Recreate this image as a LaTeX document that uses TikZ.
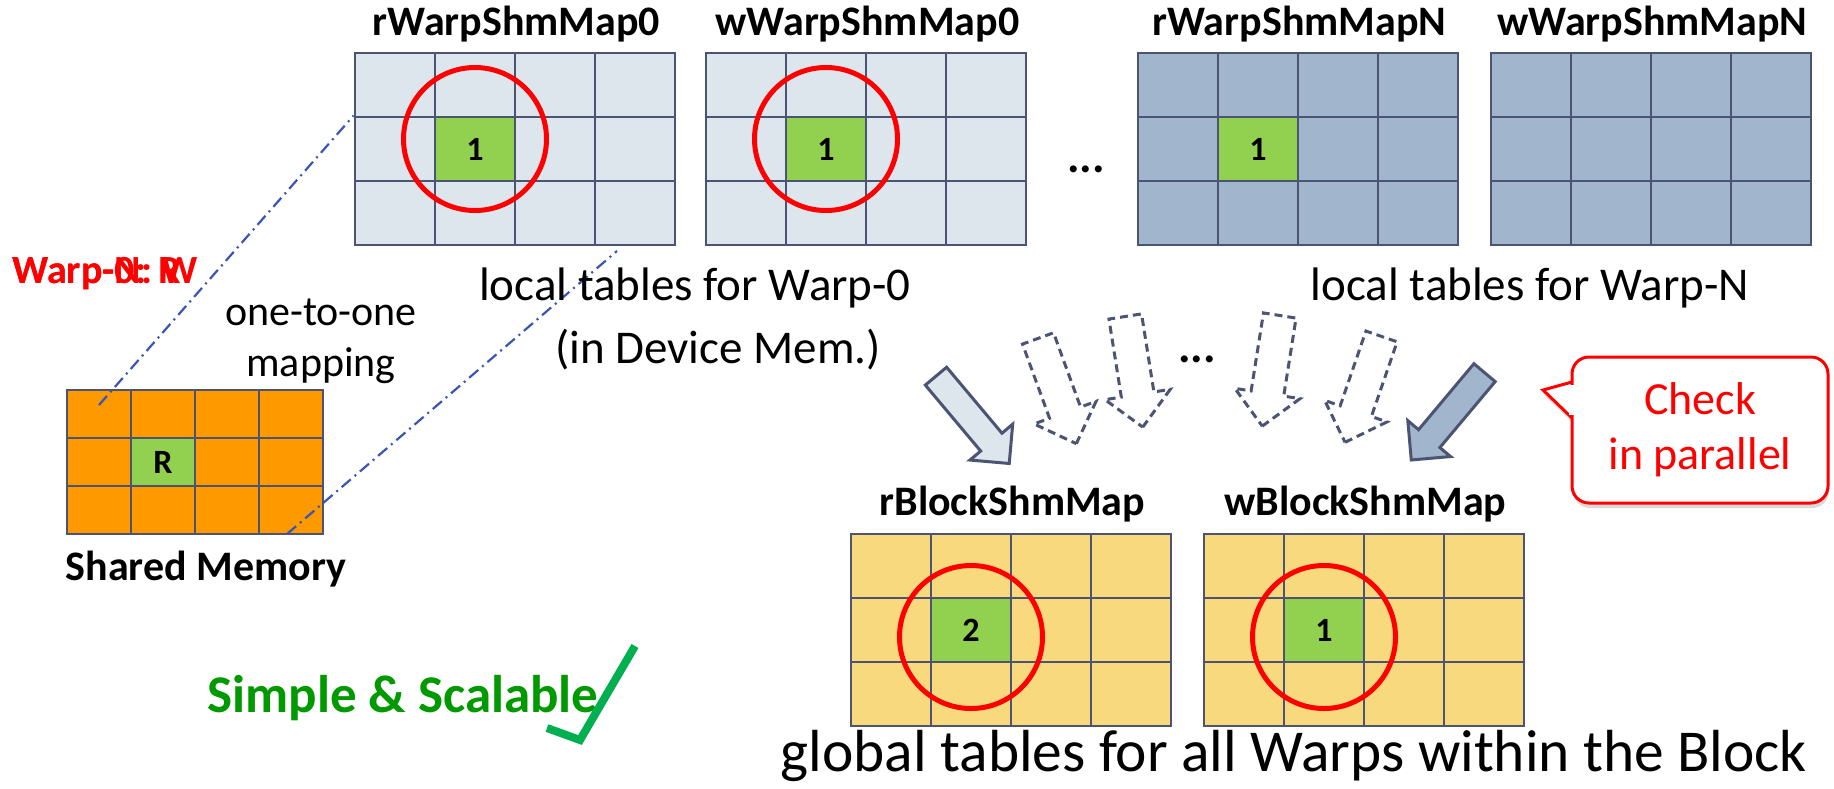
\documentclass[tikz,border=0pt]{standalone}
\usepackage{fontspec}
\setmainfont{Carlito}
\usetikzlibrary{shapes.arrows,shadows}

\definecolor{gridline}{HTML}{4C5474}
\definecolor{cLight}{HTML}{DCE6EC}
\definecolor{cDark}{HTML}{A1B6CC}
\definecolor{cShm}{HTML}{FF9900}
\definecolor{cBlk}{HTML}{F9D97E}
\definecolor{cHit}{HTML}{92D050}
\definecolor{mapblue}{HTML}{3A55B4}
\definecolor{cOk}{HTML}{009900}
\definecolor{cTick}{HTML}{00B050}

\begin{document}
\begin{tikzpicture}[
    x=0.5pt, y=-0.5pt,
    cell/.style={rectangle, draw=gridline, line width=1.4pt, minimum width=40pt, minimum height=32pt, inner sep=0pt, font=\bfseries\fontsize{17}{17}\selectfont},
    shmcell/.style={cell, minimum width=32pt, minimum height=24pt},
    ring/.style={circle, draw=red, line width=2.5pt, minimum size=71.5pt, inner sep=0pt},
    title/.style={anchor=base, font=\bfseries\fontsize{21}{25}\selectfont},
    caption/.style={anchor=base, font=\fontsize{23.5}{28}\selectfont},
    warp/.style={anchor=base west, inner sep=0pt, text=red, font=\bfseries\fontsize{20}{24}\selectfont},
    mapline/.style={draw=mapblue, line width=1.1pt, dash pattern=on 6pt off 2.5pt on 1pt off 2.5pt},
    blockarr/.style={single arrow, draw=gridline, line width=1.5pt, inner sep=0pt, anchor=tail},
    solidarr/.style={blockarr, inner ysep=6.2pt, single arrow head extend=7pt, minimum height=57pt},
    dasharr/.style={blockarr, fill=white, dash pattern=on 4pt off 2.5pt, inner ysep=7.5pt, single arrow head extend=8.25pt, minimum height=56pt},
    bubble/.style={rectangle, draw=red, line width=1.5pt, fill=white, rounded corners=8.5pt, minimum width=128pt, minimum height=73pt, align=center, text=red, font=\fontsize{23}{27.5}\selectfont}
]
\useasboundingbox (0,0) rectangle (1834,788);

% local tables
\foreach \tab/\lx/\clr in {rw0/355/cLight, ww0/706/cLight, rwn/1138/cDark, wwn/1491/cDark}
  \foreach \c in {0,...,3}
    \foreach \r in {0,1,2}
      \node[cell, fill=\clr] (\tab-\r-\c) at (\lx+40+80*\c, 85+64*\r) {};

% global tables
\foreach \tab/\lx in {rblk/851, wblk/1204}
  \foreach \c in {0,...,3}
    \foreach \r in {0,1,2}
      \node[cell, fill=cBlk] (\tab-\r-\c) at (\lx+40+80*\c, 566+64*\r) {};

% shared memory
\foreach \c in {0,...,3}
  \foreach \r in {0,1,2}
    \node[shmcell, fill=cShm] (shm-\r-\c) at (99+64*\c, 414+48*\r) {};

% hit entries
\node[cell, fill=cHit] (rw0hit) at (rw0-1-1) {1};
\node[cell, fill=cHit] (ww0hit) at (ww0-1-1) {1};
\node[cell, fill=cHit] (rwnhit) at (rwn-1-1) {1};
\node[cell, fill=cHit] (rblkhit) at (rblk-1-1) {2};
\node[cell, fill=cHit] (wblkhit) at (wblk-1-1) {1};
\node[shmcell, fill=cHit] (shmhit) at (shm-1-1) {R};

% rings
\node[ring] (rw0ring) at ([yshift=5pt]rw0-1-1) {};
\node[ring] (ww0ring) at ([yshift=5pt]ww0-1-1) {};
\node[ring] (rblkring) at ([yshift=-3.5pt]rblk-1-1) {};
\node[ring] (wblkring) at ([yshift=-3.5pt]wblk-1-1) {};

% titles
\node[title] (rw0t) at ([yshift=8pt]rw0-0-1.north east) {rWarpShmMap0};
\node[title] (ww0t) at ([yshift=8pt]ww0-0-1.north east) {wWarpShmMap0};
\node[title] (rwnt) at ([yshift=8pt]rwn-0-1.north east) {rWarpShmMapN};
\node[title] (wwnt) at ([yshift=8pt]wwn-0-1.north east) {wWarpShmMapN};
\node[title] (rblkt) at ([yshift=8.5pt]rblk-0-1.north east) {rBlockShmMap};
\node[title] (wblkt) at ([yshift=8.5pt]wblk-0-1.north east) {wBlockShmMap};
\node[title] (shmt) at (206,580) {Shared Memory};

% mapping lines
\coordinate (m1a) at (99,405);
\coordinate (m2a) at (287,534);
\coordinate (m2b) at (617,251);
\draw[mapline] (m1a) -- (rw0-1-0.north west);
\draw[mapline] (m2a) -- (m2b);

% captions
\node[caption] (loc0) at (695,300) {local tables for Warp-0};
\node[caption] (dev) at (718,363) {(in Device Mem.)};
\node[caption] (locN) at (1530,300) {local tables for Warp-N};
\node[caption, font=\fontsize{29.7}{34}\selectfont] (glob) at (1294,771) {global tables for all Warps within the Block};
\node[font=\fontsize{21}{25.5}\selectfont, align=center] (o2o) at (321,341) {one-to-one\\mapping};
\node[caption, font=\bfseries\fontsize{23.5}{28}\selectfont] (dots1) at (1086,172) {...};
\node[caption, font=\bfseries\fontsize{23.5}{28}\selectfont] (dots2) at (1197,362) {...};

% warp labels
\node[warp] (wr0) at (12,283) {Warp-0: R};
\node[warp] (wrn) at (12,283) {Warp-N: W};

% arrows
\node[solidarr, fill=cLight, rotate=-50] (arr0) at (935,375) {};
\node[solidarr, fill=cDark, rotate=-130] (arrn) at (1485.5,371.5) {};
\node[dasharr, rotate=-70] (dsh1) at (1037.5,337) {};
\node[dasharr, rotate=-81] (dsh2) at (1125,315) {};
\node[dasharr, rotate=-99] (dsh3) at (1280,314) {};
\node[dasharr, rotate=-109] (dsh4) at (1382,335) {};

% callout
\coordinate (tip) at (1543,390);
\filldraw[fill=white, draw=red, line width=1.5pt, drop shadow={shadow xshift=0.5pt, shadow yshift=-2.5pt, opacity=0.3}] (1580,379.8) -- (tip) -- (1580,425.7) -- cycle;
\node[bubble, drop shadow={shadow xshift=0.5pt, shadow yshift=-2.5pt, opacity=0.3}] (chk) at (1700,430) {Check\\in parallel};
\fill[white] (1569,385) rectangle (1576,415);

% simple and scalable
\node[anchor=base west, inner sep=0pt, text=cOk, font=\bfseries\fontsize{26.5}{30}\selectfont] (simp) at (207,712) {Simple \& Scalable};
\draw[cTick, line width=4pt] (547,728) -- (580,740) -- (635,646);

\end{tikzpicture}
\end{document}
